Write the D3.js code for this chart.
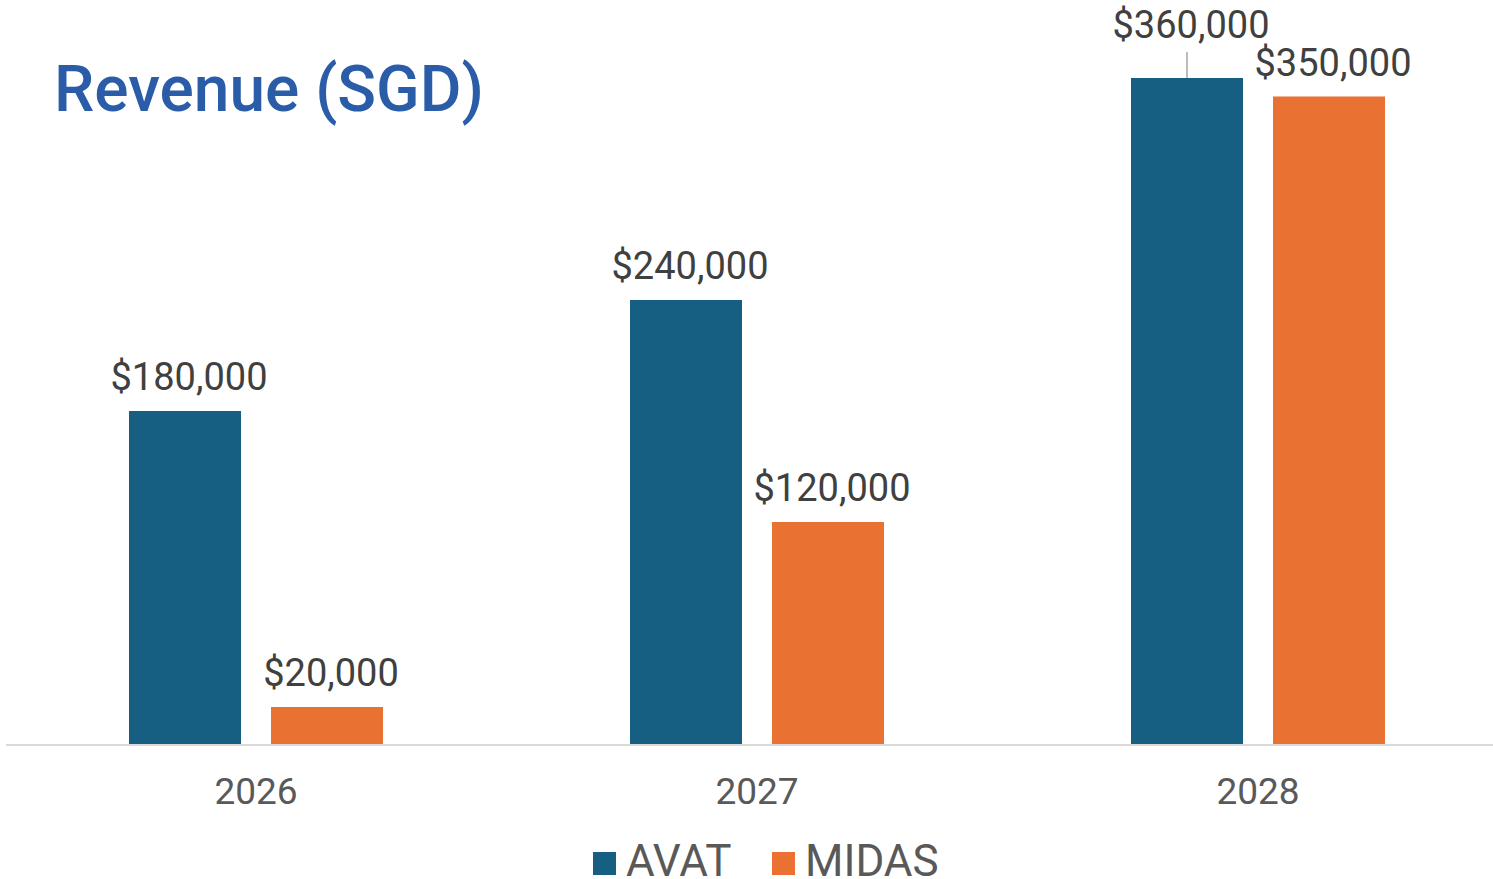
<!DOCTYPE html>
<html>
<head>
<meta charset="utf-8">
<script src="https://cdn.jsdelivr.net/npm/d3@7"></script>
<style>
  html, body { margin: 0; padding: 0; background: #fff; }
  svg { display: block; font-family: Roboto, "Noto Sans", sans-serif; }
</style>
</head>
<body>
<div id="chart_bar"></div>
<script>
const years = ['2026', '2027', '2028'];
const seriesNames = ['AVAT', 'MIDAS'];
const avatValues = [180000, 240000, 360000];
const midasValues = [20000, 120000, 350000];
const seriesColors = ['#175f82', '#e97132'];

const fmtMoney = d => '$' + d3.format(',')(d);

function drawBarChart() {
  const svgWidth = 1493;
  const svgHeight = 879;
  const baseY = 744;

  const svg = d3.select('#chart_bar').append('svg')
    .attr('width', svgWidth)
    .attr('height', svgHeight);

  const data = years.map((year, i) => ({
    year,
    values: [avatValues[i], midasValues[i]]
  }));

  const x0 = d3.scaleBand()
    .domain(years)
    .range([5.5, 1508.5]);
  const x1 = d3.scaleBand()
    .domain(seriesNames)
    .range([-127, 127])
    .paddingInner(30 / 142);
  const y = d3.scaleLinear()
    .domain([0, 360000])
    .range([baseY, 78]);

  // title
  svg.append('text')
    .attr('x', 54)
    .attr('y', 111)
    .attr('fill', '#2a5ca8')
    .attr('font-size', 64)
    .attr('font-weight', 500)
    .text('Revenue (SGD)');

  // baseline
  svg.append('line')
    .attr('x1', 6)
    .attr('x2', 1493)
    .attr('y1', baseY + 1)
    .attr('y2', baseY + 1)
    .attr('stroke', '#d9d9d9')
    .attr('stroke-width', 2);

  const groups = svg.selectAll('.year')
    .data(data)
    .join('g')
    .attr('class', 'year')
    .attr('transform', d => `translate(${ x0(d.year) + x0.bandwidth() / 2 },0)`);

  const bars = groups.selectAll('.bar')
    .data(d => d.values.map((v, i) => ({ name: seriesNames[i], value: v, i })))
    .join('g')
    .attr('class', 'bar');

  bars.append('rect')
    .attr('x', d => x1(d.name))
    .attr('y', d => y(d.value))
    .attr('width', x1.bandwidth())
    .attr('height', d => baseY - y(d.value))
    .attr('fill', d => seriesColors[d.i]);

  // labels: the tallest one is lifted and gets a leader line
  const maxVal = d3.max(avatValues.concat(midasValues));
  bars.append('text')
    .attr('x', d => x1(d.name) + x1.bandwidth() / 2 + 4)
    .attr('y', d => d.value === maxVal ? y(d.value) - 40 : y(d.value) - 21)
    .attr('text-anchor', 'middle')
    .attr('font-size', 38)
    .attr('fill', '#404040')
    .text(d => fmtMoney(d.value));

  bars.filter(d => d.value === maxVal)
    .append('line')
    .attr('x1', d => x1(d.name) + x1.bandwidth() / 2)
    .attr('x2', d => x1(d.name) + x1.bandwidth() / 2)
    .attr('y1', d => y(d.value) - 26)
    .attr('y2', d => y(d.value))
    .attr('stroke', '#a6a6a6')
    .attr('stroke-width', 1.5);

  // category axis
  svg.append('g')
    .attr('transform', `translate(0,${ baseY })`)
    .call(d3.axisBottom(x0).tickSize(0).tickPadding(0))
    .call(g => g.select('.domain').remove())
    .selectAll('text')
    .attr('dy', null)
    .attr('y', 60)
    .attr('font-family', 'Roboto, sans-serif')
    .attr('font-size', 37)
    .attr('fill', '#595959');

  // legend
  const legendX = [593, 772];
  const legend = svg.selectAll('.legend')
    .data(seriesNames)
    .join('g')
    .attr('class', 'legend')
    .attr('transform', (d, i) => `translate(${ legendX[i] },852)`);

  legend.append('rect')
    .attr('width', 23)
    .attr('height', 23)
    .attr('fill', (d, i) => seriesColors[i]);

  legend.append('text')
    .attr('x', 33)
    .attr('y', 24)
    .attr('font-size', 44)
    .attr('fill', '#595959')
    .text(d => d);
}

drawBarChart();
</script>
</body>
</html>
